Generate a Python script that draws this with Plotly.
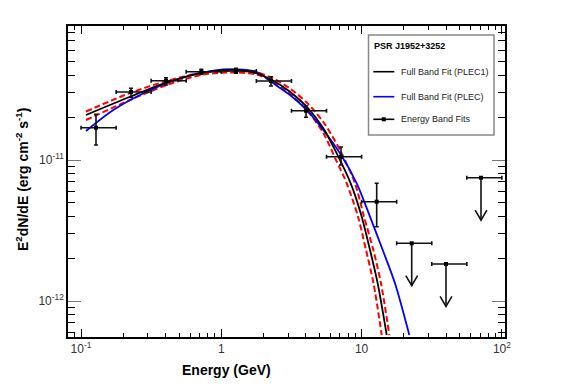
import plotly.graph_objects as go

# ---------------- data ----------------
# Energy band fits (flux points)
pt_E = [0.1279, 0.2272, 0.4035, 0.7205, 1.273, 2.261, 4.015, 7.132, 12.81]
pt_Elo = [0.100, 0.178, 0.316, 0.562, 1.000, 1.778, 3.162, 5.623, 10.00]
pt_Ehi = [0.178, 0.316, 0.562, 1.000, 1.778, 3.162, 5.623, 10.00, 17.78]
pt_F = [1.695e-11, 3.035e-11, 3.651e-11, 4.228e-11, 4.276e-11, 3.633e-11, 2.237e-11, 1.055e-11, 5.06e-12]
pt_Fhi = [2.109e-11, 3.224e-11, 3.835e-11, 4.398e-11, 4.470e-11, 3.898e-11, 2.415e-11, 1.236e-11, 6.835e-12]
pt_Flo = [1.277e-11, 2.784e-11, 3.403e-11, 4.053e-11, 4.120e-11, 3.347e-11, 2.008e-11, 9.21e-12, 3.365e-12]

# Upper limits
ul_E = [22.76, 39.96, 70.96]
ul_Elo = [17.78, 31.62, 56.23]
ul_Ehi = [31.62, 56.23, 100.0]
ul_F = [2.566e-12, 1.830e-12, 7.486e-12]

# Full band fit PLEC1 (black)
plec1_E = [0.1085, 0.2235, 0.4081, 0.7443, 1.288, 1.788, 2.348, 3.088, 4.061, 5.333, 6.645, 8.362, 10.02, 11.48, 13.02, 15.10]
plec1_F = [2.085e-11, 2.811e-11, 3.533e-11, 4.160e-11, 4.347e-11, 4.120e-11, 3.651e-11, 3.050e-11, 2.388e-11, 1.678e-11,
           1.115e-11, 6.835e-12, 3.962e-12, 2.300e-12, 1.335e-12, 5.740e-13]

# Full band fit PLEC (blue)
plec_E = [0.1085, 0.1699, 0.2938, 0.5077, 0.8770, 1.288, 1.788, 2.348, 3.088, 4.061, 5.333, 7.015, 9.228, 11.48, 14.14, 17.30, 21.88]
plec_F = [1.606e-11, 2.263e-11, 3.050e-11, 3.796e-11, 4.298e-11, 4.398e-11, 4.207e-11, 3.499e-11, 2.891e-11, 2.263e-11,
          1.632e-11, 1.115e-11, 6.835e-12, 3.962e-12, 2.300e-12, 1.335e-12, 5.740e-13]

# PLEC1 uncertainty band (red dashed)
bandhi_E = [0.1085, 0.2235, 0.4081, 0.7443, 1.288, 1.788, 2.348, 3.088, 4.061, 5.333, 7.015, 8.974, 10.40, 12.12, 13.75, 15.76]
bandhi_F = [2.208e-11, 2.987e-11, 3.633e-11, 4.173e-11, 4.276e-11, 4.173e-11, 3.784e-11, 3.215e-11, 2.557e-11, 1.860e-11,
            1.177e-11, 6.835e-12, 3.962e-12, 2.300e-12, 1.335e-12, 5.740e-13]
bandlo_E = [0.1085, 0.2235, 0.4081, 0.7443, 1.288, 1.788, 2.348, 3.088, 4.061, 5.333, 6.569, 7.830, 9.426, 10.75, 12.16, 13.91]
bandlo_F = [1.922e-11, 2.664e-11, 3.403e-11, 4.040e-11, 4.173e-11, 4.040e-11, 3.574e-11, 2.938e-11, 2.263e-11, 1.554e-11,
            1.000e-11, 6.835e-12, 3.962e-12, 2.300e-12, 1.335e-12, 5.740e-13]

x_tickvals = [0.1, 1, 10, 100]
x_ticktext = ["10<sup>-1</sup>", "1", "10", "10<sup>2</sup>"]
y_tickvals = [1e-12, 1e-11]
y_ticktext = ["10<sup>-12</sup>", "10<sup>-11</sup>"]

legend_title = "PSR J1952+3252"
legend_labels = ["Full Band Fit (PLEC1)", "Full Band Fit (PLEC)", "Energy Band Fits"]

# ---------------- figure ----------------
# The page body has an 8px margin, so the figure is drawn 8px smaller and
# offset coordinates are expressed in figure pixels.
OFF = 8
W, H = 567 - OFF, 384 - OFF
ML, MR, MT, MB = 68 - OFF, 62, 26 - OFF, 47
PW, PH = W - ML - MR, H - MT - MB

FONT = "Liberation Sans, Arial, sans-serif"
fig = go.Figure()

# red dashed band
for ex, fy in [(bandhi_E, bandhi_F), (bandlo_E, bandlo_F)]:
    fig.add_trace(go.Scatter(x=ex, y=fy, mode="lines", line=dict(color="#ff0000", width=2, dash="6px,3px", shape="spline", smoothing=0.8),
                             hoverinfo="skip", showlegend=False))
# blue PLEC
fig.add_trace(go.Scatter(x=plec_E, y=plec_F, mode="lines", line=dict(color="#0000ff", width=1.8, shape="spline", smoothing=0.8),
                         showlegend=False))
# black PLEC1
fig.add_trace(go.Scatter(x=plec1_E, y=plec1_F, mode="lines", line=dict(color="#000000", width=1.8, shape="spline", smoothing=0.8),
                         showlegend=False))

# flux points
fig.add_trace(go.Scatter(
    x=pt_E, y=pt_F, mode="markers",
    marker=dict(symbol="square", size=4, color="black"),
    error_x=dict(type="data", symmetric=False,
                 array=[h - e for h, e in zip(pt_Ehi, pt_E)],
                 arrayminus=[e - l for e, l in zip(pt_E, pt_Elo)],
                 color="#111", thickness=1.6, width=2),
    error_y=dict(type="data", symmetric=False,
                 array=[h - f for h, f in zip(pt_Fhi, pt_F)],
                 arrayminus=[f - l for f, l in zip(pt_F, pt_Flo)],
                 color="#111", thickness=1.6, width=2),
    showlegend=False))

# upper limits: horizontal bars + markers
fig.add_trace(go.Scatter(
    x=ul_E, y=ul_F, mode="markers",
    marker=dict(symbol="square", size=4, color="black"),
    error_x=dict(type="data", symmetric=False,
                 array=[h - e for h, e in zip(ul_Ehi, ul_E)],
                 arrayminus=[e - l for e, l in zip(ul_E, ul_Elo)],
                 color="#111", thickness=1.6, width=2),
    showlegend=False))

# arrows (shaft to half the limit, open V head)
ARROW_FACTOR = 0.5
HEAD_DX = 10 ** 0.042
HEAD_DY = 10 ** 0.072
ax, ay = [], []
for e, f in zip(ul_E, ul_F):
    tip = f * ARROW_FACTOR
    ax += [e, e, None, e / HEAD_DX, e, e * HEAD_DX, None]
    ay += [f, tip, None, tip * HEAD_DY, tip, tip * HEAD_DY, None]
fig.add_trace(go.Scatter(x=ax, y=ay, mode="lines", line=dict(color="#111", width=1.6), showlegend=False, hoverinfo="skip"))

xminor = [v * m for v in [0.01, 0.1, 1, 10] for m in range(2, 10)]
yminor = [v * m for v in [1e-13, 1e-12, 1e-11] for m in range(2, 10)]

fig.update_xaxes(type="log", range=[-1.0927, 2.0221],
                 tickvals=x_tickvals, ticktext=x_ticktext,
                 ticks="inside", ticklen=8, tickwidth=1, tickcolor="black",
                 minor=dict(tickvals=xminor, ticks="inside", ticklen=4, tickwidth=1, tickcolor="black"),
                 showline=True, linecolor="black", linewidth=1.5, mirror="allticks",
                 showgrid=False, zeroline=False,
                 tickfont=dict(family=FONT, size=12, color="#333"))
fig.update_yaxes(type="log", range=[-12.2553, -10.0496],
                 tickvals=y_tickvals, ticktext=y_ticktext,
                 ticks="inside", ticklen=13, tickwidth=1, tickcolor="#777",
                 minor=dict(tickvals=yminor, ticks="inside", ticklen=7, tickwidth=1, tickcolor="black"),
                 showline=True, linecolor="black", linewidth=1.5, mirror="allticks",
                 showgrid=False, zeroline=False,
                 tickfont=dict(family=FONT, size=12, color="#333"))

# helpers: page pixel -> paper coordinate
def px_x(px):
    return (px - OFF - ML) / PW

def px_y(py):
    return (H - MB - (py - OFF)) / PH

shapes = []
annotations = []
# axis titles
annotations.append(dict(x=px_x(226), y=px_y(370), xref="paper", yref="paper", text="<b>Energy (GeV)</b>",
                        showarrow=False, font=dict(family=FONT, size=14, color="black"), xanchor="center", yanchor="middle"))
annotations.append(dict(x=px_x(22), y=px_y(179), xref="paper", yref="paper",
                        text="<b>E<sup>2</sup>dN/dE (erg cm<sup>-2</sup> s<sup>-1</sup>)</b>",
                        showarrow=False, textangle=-90, font=dict(family=FONT, size=14, color="black"),
                        xanchor="center", yanchor="middle"))

# legend box
shapes.append(dict(type="rect", xref="paper", yref="paper", x0=px_x(368.5), x1=px_x(494), y0=px_y(135), y1=px_y(35),
                   line=dict(color="#888", width=1.5), fillcolor="white", layer="above"))
annotations.append(dict(x=px_x(371.5), y=px_y(46), xref="paper", yref="paper", text="<b>" + legend_title + "</b>",
                        showarrow=False, font=dict(family=FONT, size=9, color="black"), xanchor="left", yanchor="middle"))
leg_y = [71.7, 96.7, 119.3]
leg_col = ["black", "#0000ff", "black"]
for yy, col, lab in zip(leg_y, leg_col, legend_labels):
    shapes.append(dict(type="line", xref="paper", yref="paper", x0=px_x(373.3), x1=px_x(394.3), y0=px_y(yy), y1=px_y(yy),
                       line=dict(color=col, width=1.6), layer="above"))
    annotations.append(dict(x=px_x(399.3), y=px_y(yy), xref="paper", yref="paper", text=lab,
                            showarrow=False, font=dict(family=FONT, size=9, color="#222"), xanchor="left", yanchor="middle"))
shapes.append(dict(type="rect", xref="paper", yref="paper", x0=px_x(381.8), x1=px_x(385.8), y0=px_y(121.3), y1=px_y(117.3),
                   line=dict(color="black", width=0), fillcolor="black", layer="above"))

fig.update_layout(width=W, height=H, margin=dict(l=ML, r=MR, t=MT, b=MB),
                  paper_bgcolor="white", plot_bgcolor="white",
                  shapes=shapes, annotations=annotations, showlegend=False)

fig.write_html("out.html")
